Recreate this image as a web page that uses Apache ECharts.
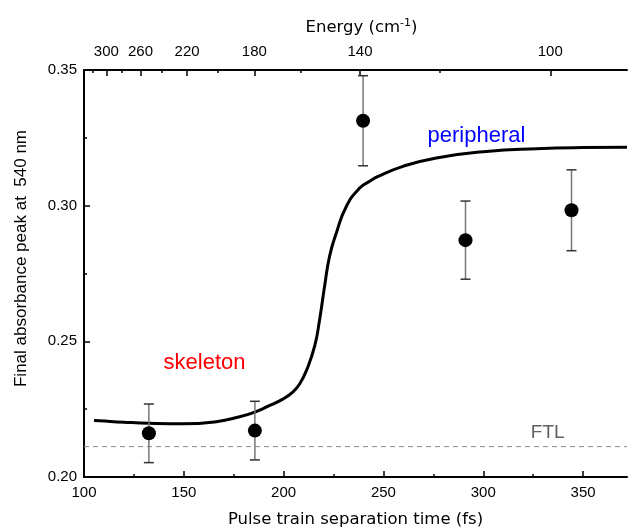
<!DOCTYPE html>
<html>
<head>
<meta charset="utf-8">
<script src="https://cdn.jsdelivr.net/npm/echarts@6/dist/echarts.min.js"></script>
<style>html,body{margin:0;padding:0;background:#fff}#c{width:629px;height:528px}</style>
</head>
<body>
<div id="c"></div>
<script>
// ---- data ----
var pointTimes = [132.5, 185.6, 239.8, 291.1, 344.2];
var pointValues = [0.2161, 0.2171, 0.3313, 0.2873, 0.2983];
var pointErrors = [0.0108, 0.0108, 0.0166, 0.0144, 0.0149];

var curveTimes = [105, 107.8, 120, 132.8, 149.5, 166.3, 178, 185.6, 192, 199.6, 204.7, 208, 211.4, 215.5, 218, 220.5, 223, 226.4, 231.4, 238.1, 243.1, 247.3, 259.8, 276.5, 301.6, 326.7, 350, 372];
var curveValues = [0.2208, 0.2207, 0.2202, 0.2198, 0.2196, 0.2204, 0.2222, 0.2239, 0.2260, 0.2287, 0.2314, 0.2343, 0.2392, 0.2481, 0.2579, 0.2702, 0.2813, 0.2899, 0.2997, 0.3065, 0.3090, 0.3108, 0.3145, 0.3176, 0.3200, 0.3210, 0.3214, 0.3215];

var ftlValue = 0.2112;

var bottomTicks = [100, 150, 200, 250, 300, 350];
var bottomMinorTicks = [125, 175, 225, 275, 325];
var energyMajor = [300, 260, 220, 180, 140, 100];
var energyMinor = [320, 280, 240, 200, 160, 120];
var yTicks = [0.20, 0.25, 0.30, 0.35];
var yMinorTicks = [0.225, 0.275, 0.325];

var annotations = [
  {text: 'skeleton', t: 160.4, v: 0.2422, color: '#ff0000', size: 22},
  {text: 'peripheral', t: 296.6, v: 0.3258, color: '#0000ff', size: 22},
  {text: 'FTL', t: 332.3, v: 0.2162, color: '#606060', size: 19}
];

// conversion: separation time (fs) = 1e15 / (c[cm/s] * E[cm^-1])
var C_CM = 2.99792458e10;
function energyToTime(e) { return 1e15 / (C_CM * e); }

var XMIN = 100, XMAX = 372;
var FONT = 'Liberation Sans';
var TFONT = 'DejaVu Sans';

var chart = echarts.init(document.getElementById('c'));

function baseX(extra) {
  var o = {
    type: 'value', min: XMIN, max: XMAX,
    splitLine: {show: false},
    axisLine: {show: true, onZero: false, lineStyle: {color: '#000', width: 2}},
    axisTick: {show: true, inside: true, length: 6, lineStyle: {color: '#000', width: 1.5}},
    axisLabel: {show: false}
  };
  for (var k in extra) o[k] = extra[k];
  return o;
}

var option = {
  animation: false,
  backgroundColor: '#fff',
  grid: {left: 84, right: 2, top: 70, bottom: 51, containLabel: false, outerBoundsMode: 'none'},
  xAxis: [
    baseX({
      position: 'bottom',
      name: 'Pulse train separation time (fs)',
      nameLocation: 'middle', nameGap: 34,
      nameTextStyle: {fontFamily: TFONT, fontSize: 16.5, color: '#000'},
      axisTick: {show: true, inside: true, length: 6, customValues: bottomTicks, lineStyle: {color: '#000', width: 1.5}},
      axisLabel: {show: true, customValues: bottomTicks, fontFamily: FONT, fontSize: 15, color: '#000', margin: 8}
    }),
    baseX({
      position: 'bottom',
      axisLine: {show: false, onZero: false},
      axisTick: {show: true, inside: true, length: 3, customValues: bottomMinorTicks, lineStyle: {color: '#000', width: 1.5}}
    }),
    baseX({
      position: 'top',
      name: 'Energy (cm{sup|-1})',
      nameLocation: 'middle', nameGap: 33,
      nameTextStyle: {fontFamily: TFONT, fontSize: 16.5, color: '#000', padding: [0, 0, 0, 12],
        rich: {sup: {fontFamily: TFONT, fontSize: 11, color: '#000', verticalAlign: 'top', padding: [0, 0, 8, 0]}}},
      axisTick: {show: true, inside: true, length: 6, customValues: energyMajor.map(energyToTime), lineStyle: {color: '#000', width: 1.5}},
      axisLabel: {show: true, customValues: energyMajor.map(energyToTime), fontFamily: FONT, fontSize: 15, color: '#000', margin: 11,
        formatter: function (v) { return String(Math.round(1e15 / (C_CM * v))); }}
    }),
    baseX({
      position: 'top',
      axisLine: {show: false, onZero: false},
      axisTick: {show: true, inside: true, length: 3, customValues: energyMinor.map(energyToTime), lineStyle: {color: '#000', width: 1.5}}
    })
  ],
  yAxis: [
    {
      type: 'value', min: 0.20, max: 0.35,
      splitLine: {show: false},
      name: 'Final absorbance peak at  540 nm',
      nameLocation: 'middle', nameGap: 54,
      nameTextStyle: {fontFamily: FONT, fontSize: 17, color: '#000', padding: [0, 0, 0, 30]},
      axisLine: {show: true, onZero: false, lineStyle: {color: '#000', width: 2}},
      axisTick: {show: true, inside: true, length: 6, customValues: yTicks, lineStyle: {color: '#000', width: 1.5}},
      axisLabel: {show: true, customValues: yTicks, fontFamily: FONT, fontSize: 15, color: '#000', margin: 7,
        formatter: function (v) { return v.toFixed(2); }}
    },
    {
      type: 'value', min: 0.20, max: 0.35, position: 'left',
      splitLine: {show: false},
      axisLine: {show: false},
      axisTick: {show: true, inside: true, length: 3, customValues: yMinorTicks, lineStyle: {color: '#000', width: 1.5}},
      axisLabel: {show: false}
    }
  ],
  series: [
    {
      type: 'line', xAxisIndex: 0, yAxisIndex: 0,
      data: [[XMIN, ftlValue], [XMAX, ftlValue]],
      symbol: 'none', silent: true,
      lineStyle: {color: '#888', width: 1, type: [5, 4]},
      z: 1
    },
    {
      type: 'line', xAxisIndex: 0, yAxisIndex: 0,
      data: curveTimes.map(function (t, i) { return [t, curveValues[i]]; }),
      symbol: 'none', smooth: 0.5,
      lineStyle: {color: '#000', width: 3},
      z: 3
    },
    {
      type: 'custom', xAxisIndex: 0, yAxisIndex: 0,
      data: pointTimes.map(function (t, i) { return [t, pointValues[i] - pointErrors[i], pointValues[i] + pointErrors[i]]; }),
      renderItem: function (params, api) {
        var lo = api.coord([api.value(0), api.value(1)]);
        var hi = api.coord([api.value(0), api.value(2)]);
        var hw = 5;
        return {
          type: 'group',
          children: [
            {type: 'line', shape: {x1: lo[0], y1: lo[1], x2: hi[0], y2: hi[1]}, style: {stroke: '#777', lineWidth: 1.5}},
            {type: 'line', shape: {x1: lo[0] - hw, y1: lo[1], x2: lo[0] + hw, y2: lo[1]}, style: {stroke: '#333', lineWidth: 1.5}},
            {type: 'line', shape: {x1: hi[0] - hw, y1: hi[1], x2: hi[0] + hw, y2: hi[1]}, style: {stroke: '#333', lineWidth: 1.5}}
          ]
        };
      },
      encode: {x: 0, y: [1, 2]},
      z: 4
    },
    {
      type: 'scatter', xAxisIndex: 0, yAxisIndex: 0,
      data: pointTimes.map(function (t, i) { return [t, pointValues[i]]; }),
      symbol: 'circle', symbolSize: 14,
      itemStyle: {color: '#000', opacity: 1},
      z: 5
    },
    {
      type: 'scatter', xAxisIndex: 0, yAxisIndex: 0,
      data: annotations.map(function (a) {
        return {value: [a.t, a.v], label: {show: true, position: 'inside', formatter: a.text, color: a.color,
          fontFamily: FONT, fontSize: a.size}};
      }),
      symbolSize: 1, itemStyle: {color: 'rgba(255,255,255,0)', opacity: 1}, silent: true,
      z: 6
    }
  ]
};
chart.setOption(option);
</script>
</body>
</html>
